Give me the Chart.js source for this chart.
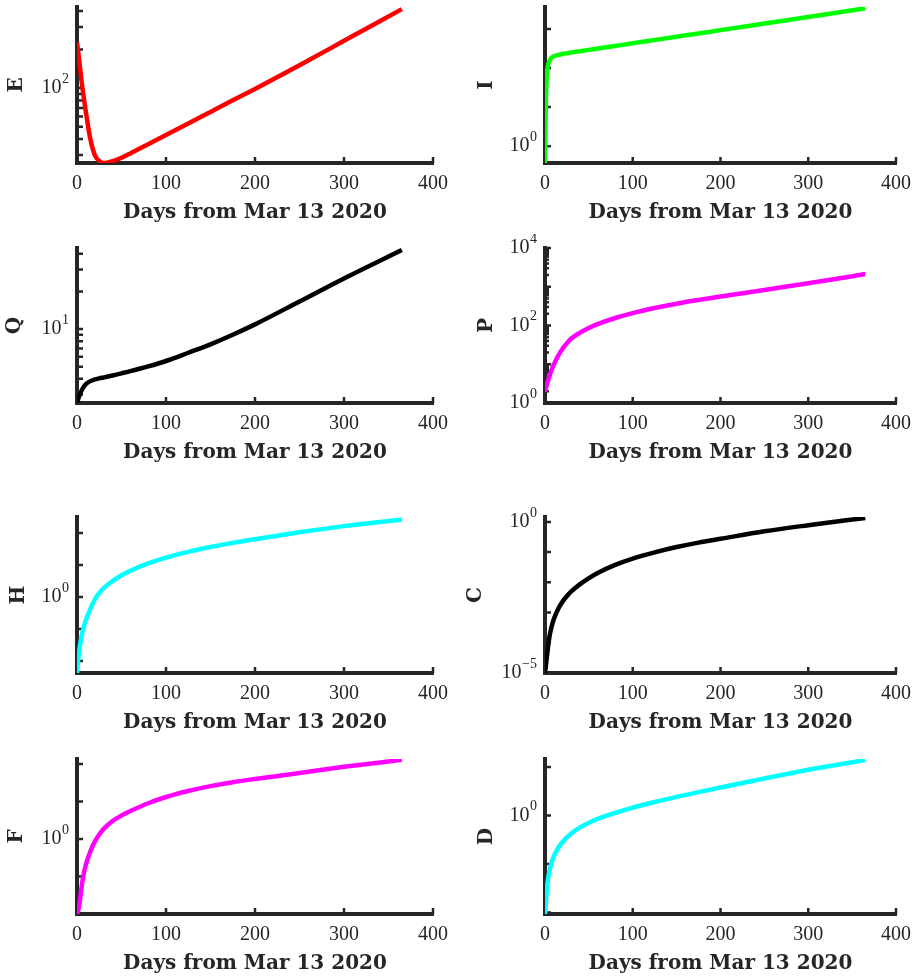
<!DOCTYPE html>
<html lang="en">
<head>
    <meta charset="UTF-8">
    <title>Model compartments, log scale</title>
    <script src="https://cdn.jsdelivr.net/npm/chart.js"></script>
    <style>
        html, body { margin: 0; padding: 0; background: #fff; }
        #wrap { position: relative; width: 920px; height: 977px; overflow: hidden; }
        canvas { position: absolute; }
    </style>
</head>
<body>
    <div id="wrap"></div>

    <script>
        // sample days (shared x values) and x tick marks
        const days   = [0, 1, 2, 3, 5, 7, 10, 15, 20, 25, 30, 40, 50, 60, 80, 100, 125, 150, 175, 200, 250, 300, 365];
        const xTicks = [0, 100, 200, 300, 400];

        // series
        const seriesE = [229, 200, 176, 153, 115, 90, 65, 40, 30, 27, 26, 26.9, 28.6, 30.9, 36.5, 43, 53, 65.2, 80.2, 98.6, 151, 234, 414];
        const seriesI = [0.37, 15, 60, 105, 150, 180, 200, 217, 230, 240, 249.5, 270, 292, 315, 368, 430, 522, 634, 771, 935, 1380, 2037, 3390];
        const seriesQ = [2.56, 2.7, 2.85, 2.97, 3.2, 3.4, 3.62, 3.83, 3.95, 4.03, 4.1, 4.25, 4.42, 4.6, 5.02, 5.55, 6.46, 7.55, 9.0, 10.9, 16.6, 25.4, 42.9];
        const seriesP = [1.95, 2.4, 2.92, 3.51, 4.9, 6.6, 9.8, 16.6, 25.1, 35.1, 46.2, 65.6, 86.1, 108, 156, 209, 282, 364, 455, 560, 828, 1225, 2130];
        const seriesH = [0.0042, 0.0089, 0.0162, 0.0263, 0.0562, 0.1, 0.19, 0.427, 0.832, 1.35, 1.9, 3.16, 4.79, 6.61, 11.2, 17, 25.7, 36.3, 49, 63.8, 105, 164, 263];
        const seriesC = [1e-5, 1.78e-5, 3.16e-5, 5.6e-5, 1.55e-4, 2.95e-4, 6.0e-4, 1.32e-3, 2.3e-3, 3.52e-3, 5.0e-3, 8.7e-3, 0.0138, 0.0204, 0.0378, 0.061, 0.0984, 0.147, 0.206, 0.275, 0.488, 0.776, 1.35];
        const seriesF = [0.01, 0.0117, 0.0148, 0.0209, 0.05, 0.1, 0.209, 0.468, 0.851, 1.32, 1.86, 3.02, 4.22, 5.56, 9.0, 13.2, 19.1, 25.7, 32.7, 39.8, 57.5, 84.1, 129];
        const seriesD = [0.0093, 0.0158, 0.0282, 0.0427, 0.0708, 0.1, 0.143, 0.214, 0.285, 0.355, 0.427, 0.569, 0.708, 0.851, 1.135, 1.46, 1.905, 2.43, 3.05, 3.8, 5.82, 8.81, 14];

        // y axis limits and tick values per panel
        const limE = [26, 430],    ticksE = [30, 40, 50, 60, 70, 80, 90, 100, 200, 300, 400], labelsE = [100];
        const limI = [0.37, 3660], ticksI = [1, 10, 100, 1000],                               labelsI = [1];
        const limQ = [2.56, 44.5], ticksQ = [3, 4, 5, 6, 7, 8, 9, 10, 20, 30, 40],            labelsQ = [10];
        const limP = [1, 10000],   ticksP = [1, 2, 3, 4, 5, 6, 7, 8, 9, 10, 20, 30, 40, 50, 60, 70, 80, 90,
                                             100, 200, 300, 400, 500, 600, 700, 800, 900,
                                             1000, 2000, 3000, 4000, 5000, 6000, 7000, 8000, 9000, 10000],
                                   labelsP = [1, 100, 10000];
        const limH = [0.0042, 316], ticksH = [0.01, 0.1, 1, 10, 100],                         labelsH = [1];
        const limC = [1e-5, 1.45],  ticksC = [1e-5, 1e-4, 1e-3, 1e-2, 0.1, 1],                 labelsC = [1e-5, 1];
        const limF = [0.01, 136],   ticksF = [0.01, 0.1, 1, 10, 100],                          labelsF = [1];
        const limD = [0.0093, 14.7], ticksD = [0.01, 0.1, 1, 10],                              labelsD = [1];

        const AX = '#262626';
        const serif = '"Liberation Serif", "Times New Roman", serif';
        const boldSerif = '"DejaVu Serif", serif';

        // inward tick marks and 10^n labels, MATLAB style
        const matlabAxes = {
            id: 'matlabAxes',
            beforeDatasetsDraw(chart, args, opts) {
                const { ctx, chartArea: a, scales: { x, y } } = chart;
                ctx.save();
                ctx.strokeStyle = AX;
                ctx.lineWidth = 2.5;
                ctx.beginPath();
                xTicks.forEach(v => {
                    const px = x.getPixelForValue(v);
                    ctx.moveTo(px, a.bottom);
                    ctx.lineTo(px, a.bottom - 6);
                });
                opts.ticks.forEach(v => {
                    const py = y.getPixelForValue(v);
                    const major = Math.abs(Math.log10(v) - Math.round(Math.log10(v))) < 1e-9;
                    ctx.moveTo(a.left, py);
                    ctx.lineTo(a.left + (major || opts.ticks.length < 20 ? 6 : 4), py);
                });
                ctx.stroke();

                ctx.fillStyle = AX;
                ctx.textBaseline = 'middle';
                ctx.textAlign = 'right';
                opts.labels.forEach(v => {
                    const py = y.getPixelForValue(v);
                    const right = a.left - 8;
                    const exp = String(Math.round(Math.log10(v))).replace('-', '\u2212');
                    ctx.font = '14px ' + serif;
                    const ew = ctx.measureText(exp).width;
                    ctx.fillText(exp, right, py - 9);
                    ctx.font = '20px ' + serif;
                    ctx.fillText('10', right - ew - 0.5, py);
                });
                ctx.restore();
            }
        };

        const cols = [
            { left: 0,   yWidth: 77, padRight: 27 },
            { left: 460, yWidth: 85, padRight: 20 }
        ];
        const rows = [
            { top: 7,   bottom: 163 },
            { top: 248, bottom: 403 },
            { top: 517, bottom: 673 },
            { top: 759, bottom: 914 }
        ];
        const PAD_TOP = 14, X_H = 62, W = 460;

        function panel(col, row, name, values, lim, ticks, labels, color, titlePad) {
            const c = cols[col], r = rows[row];
            const canvas = document.createElement('canvas');
            const h = (r.bottom - r.top) + PAD_TOP + X_H;
            canvas.width = W;
            canvas.height = h;
            canvas.style.left = c.left + 'px';
            canvas.style.top = (r.top - PAD_TOP) + 'px';
            canvas.style.width = W + 'px';
            canvas.style.height = h + 'px';
            document.getElementById('wrap').appendChild(canvas);

            new Chart(canvas, {
                type: 'line',
                data: {
                    datasets: [{
                        data: days.map((d, i) => ({ x: d, y: values[i] })),
                        borderColor: color,
                        borderWidth: 4.5,
                        pointRadius: 0,
                        cubicInterpolationMode: 'monotone',
                        fill: false
                    }]
                },
                options: {
                    responsive: false,
                    animation: false,
                    events: [],
                    layout: { padding: { top: PAD_TOP, right: c.padRight, bottom: 0, left: 0 } },
                    plugins: {
                        legend: { display: false },
                        tooltip: { enabled: false },
                        matlabAxes: { ticks: ticks, labels: labels }
                    },
                    scales: {
                        x: {
                            type: 'linear',
                            min: 0,
                            max: 400,
                            afterFit: s => { s.height = X_H; },
                            afterBuildTicks: s => { s.ticks = xTicks.map(v => ({ value: v })); },
                            grid: { display: false, drawTicks: false },
                            border: { display: true, color: AX, width: 4 },
                            ticks: {
                                padding: 9,
                                maxRotation: 0,
                                color: AX,
                                font: { family: serif, size: 20 }
                            },
                            title: {
                                display: true,
                                text: 'Days from Mar 13 2020',
                                color: AX,
                                font: { family: boldSerif, size: 20, weight: 'bold' },
                                padding: { top: 0, bottom: 0 }
                            }
                        },
                        y: {
                            type: 'logarithmic',
                            min: lim[0],
                            max: lim[1],
                            bounds: 'data',
                            afterFit: s => { s.width = c.yWidth; },
                            grid: { display: false, drawTicks: false },
                            border: { display: true, color: AX, width: 4 },
                            ticks: { display: false },
                            title: {
                                display: true,
                                text: name,
                                color: AX,
                                font: { family: boldSerif, size: 20, weight: 'bold' },
                                padding: { top: titlePad, bottom: 0 }
                            }
                        }
                    }
                },
                plugins: [matlabAxes]
            });
        }

        panel(0, 0, 'E', seriesE, limE, ticksE, labelsE, '#ff0000', 5);
        panel(1, 0, 'I', seriesI, limI, ticksI, labelsI, '#00ff00', 15);
        panel(0, 1, 'Q', seriesQ, limQ, ticksQ, labelsQ, '#000000', 3);
        panel(1, 1, 'P', seriesP, limP, ticksP, labelsP, '#ff00ff', 15);
        panel(0, 2, 'H', seriesH, limH, ticksH, labelsH, '#00ffff', 7);
        panel(1, 2, 'C', seriesC, limC, ticksC, labelsC, '#000000', 4);
        panel(0, 3, 'F', seriesF, limF, ticksF, labelsF, '#ff00ff', 5);
        panel(1, 3, 'D', seriesD, limD, ticksD, labelsD, '#00ffff', 15);
    </script>
</body>
</html>
